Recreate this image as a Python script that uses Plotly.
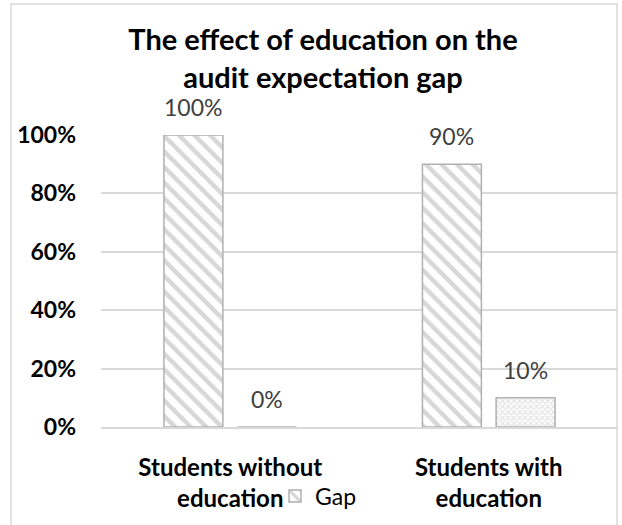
import plotly.graph_objects as go

categories = ["Students without<br>education", "Students with<br>education"]
gap_values = [1.00, 0.90]
nogap_values = [0.00, 0.10]
gap_labels = ["100%", "90%"]
nogap_labels = ["0%", "10%"]
y_ticks = [0, 0.2, 0.4, 0.6, 0.8, 1.0]
y_tick_text = ["0%", "20%", "40%", "60%", "80%", "100%"]

W, H = 622, 525
L, R, T, B = 101, 4, 135, 98
FONT = "Lato"

fig = go.Figure()
fig.add_trace(go.Bar(
    x=categories, y=gap_values, name="Gap",
    marker=dict(color="white", line=dict(color="#b0b0b0", width=1.5),
                pattern=dict(shape="\\", fgcolor="#b0b0b0", bgcolor="white", size=11, solidity=0.4)),
))
fig.add_trace(go.Bar(
    x=categories, y=nogap_values, name="No gap", showlegend=False,
    marker=dict(color="white", line=dict(color="#b0b0b0", width=1.5),
                pattern=dict(shape="x", fgcolor="#c8c8c8", bgcolor="white", size=4, solidity=0.5)),
))

for vals, labs, shift in [(gap_values, gap_labels, -37), (nogap_values, nogap_labels, 37)]:
    for c, v, t in zip(categories, vals, labs):
        fig.add_annotation(x=c, y=v, text=t, showarrow=False, xshift=shift, yshift=28,
                           yanchor="middle", font=dict(family=FONT, size=23, color="#404040"))

pw = W - L - R
ph = H - T - B
def px(xp):
    return (xp - L) / pw
def py(yp):
    return (H - B - yp) / ph

fig.add_shape(type="rect", xref="paper", yref="paper",
              x0=px(11), x1=px(617), y0=py(540), y1=py(4),
              line=dict(color="#d9d9d9", width=1.5), fillcolor="rgba(0,0,0,0)", layer="below")

fig.update_layout(
    width=W, height=H,
    margin=dict(l=L, r=R, t=T, b=B, pad=0, autoexpand=False),
    paper_bgcolor="white", plot_bgcolor="white",
    barmode="group", bargap=0.43, bargroupgap=0.2,
    title=dict(text="<b>The effect of education on the<br>audit expectation gap</b>",
               x=323 / W, xref="container", xanchor="center",
               y=1 - 50 / H, yref="container", yanchor="top",
               font=dict(family=FONT, size=29, color="black")),
    legend=dict(orientation="h", x=px(275), xanchor="left", y=py(496), yanchor="middle",
                font=dict(family=FONT, size=23, color="black"), bgcolor="rgba(0,0,0,0)",
                itemwidth=30),
    showlegend=True,
)
fig.update_xaxes(showgrid=False, showline=True, linecolor="#d9d9d9", linewidth=1.5,
                 ticks="", tickfont=dict(family=FONT, size=24, color="black", weight="bold"),
                 ticklabelstandoff=18)
fig.update_yaxes(range=[0, 1.0], tickvals=y_ticks, ticktext=y_tick_text,
                 showgrid=True, gridcolor="#d9d9d9", gridwidth=1.5, zeroline=False,
                 showline=False, ticks="",
                 tickfont=dict(family=FONT, size=23, color="black", weight="bold"),
                 ticklabelstandoff=24)

fig.write_html("out.html", config={"displayModeBar": False},
               post_script="document.body.style.margin='0';")
